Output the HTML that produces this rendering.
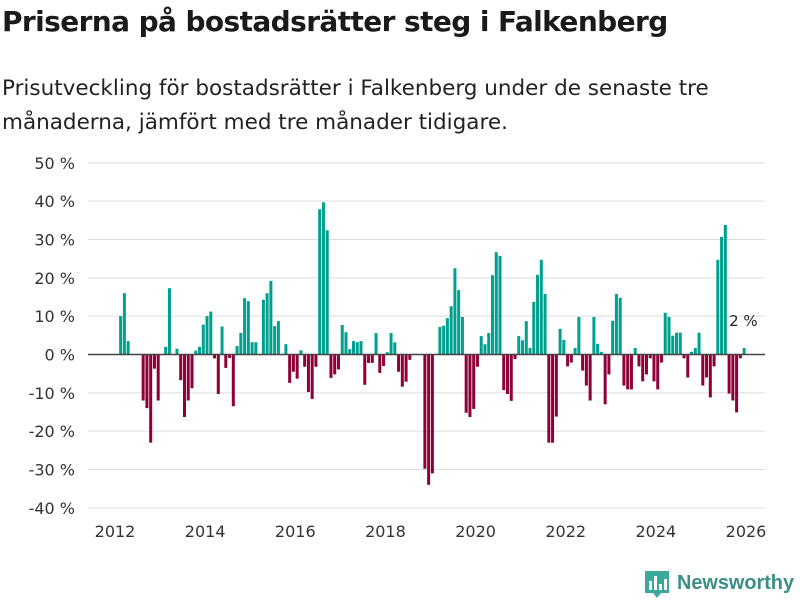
<!DOCTYPE html>
<html><head><meta charset="utf-8"><style>
body{margin:0;background:#fff;font-family:"Liberation Sans","DejaVu Sans",sans-serif;}
#wrap{position:relative;width:800px;height:600px;overflow:hidden}
h1{position:absolute;left:2px;top:5px;margin:0;font-size:28px;font-weight:bold;color:#1a1a1a;font-family:"DejaVu Sans","Liberation Sans",sans-serif;letter-spacing:-0.6px}
p{position:absolute;left:2px;top:72px;margin:0;font-size:21.5px;line-height:34px;color:#222;width:790px;font-family:"DejaVu Sans","Liberation Sans",sans-serif}
</style></head><body><div id="wrap">
<h1>Priserna på bostadsrätter steg i Falkenberg</h1>
<p>Prisutveckling för bostadsrätter i Falkenberg under de senaste tre månaderna, jämfört med tre månader tidigare.</p>
<svg id="c" width="800" height="600" style="position:absolute;left:0;top:0"></svg>
</div>
<script>
const values=[null,10,16,3.5,0,0,0,-12,-14,-23,-3.7,-12,
0,2,17.3,0,1.5,-6.7,-16.3,-12,-8.8,1,2,7.8,
10,11.2,-1,-10.3,7.3,-3.5,-0.9,-13.5,2.2,5.6,14.7,13.9,
3.2,3.2,0,14.3,16,19.2,7.4,8.7,0,2.7,-7.4,-4.5,
-6.3,1.1,-3.2,-9.8,-11.6,-3.2,37.9,39.7,32.4,-6.1,-5.2,-3.9,
7.7,5.8,1.4,3.5,3.2,3.5,-7.9,-2.2,-2.2,5.6,-4.8,-3,
0.6,5.6,3.2,-4.5,-8.4,-7.1,-1.4,0,0,0,-29.8,-34,
-31,0,7.2,7.5,9.5,12.6,22.5,16.8,9.8,-15.2,-16.3,-14.2,
-3.2,4.8,2.7,5.6,20.7,26.7,25.7,-9.3,-10.3,-12.1,-1.2,4.8,
3.7,8.7,1.7,13.7,20.8,24.7,15.8,-23,-23,-16.2,6.7,3.8,
-3.1,-2.1,1.7,9.8,-4.2,-8.1,-12,9.8,2.8,0.7,-13,-5.2,
8.8,15.8,14.8,-8.1,-9.1,-9.1,1.7,-3.1,-7,-5.2,-1,-7,
-9.1,-2.1,10.9,9.8,4.9,5.7,5.7,-1,-6,0.7,1.7,5.7,
-8.1,-6,-11.2,-3.1,24.7,30.7,33.8,-10.2,-12,-15.1,-1,1.7];
const startYear=2012;
const yTicks=[50,40,30,20,10,0,-10,-20,-30,-40];
const xTicks=[2012,2014,2016,2018,2020,2022,2024,2026];
const lastLabel="2 %";
const NS="http://www.w3.org/2000/svg",svg=document.getElementById('c');
const y=v=>354.5-v*3.833;
const x=m=>115+m*(631/168);
function mk(t,a){const e=document.createElementNS(NS,t);for(const k in a)e.setAttribute(k,a[k]);svg.appendChild(e);return e;}
yTicks.forEach(t=>{
 if(t!==0){const g=mk('line',{x1:88,x2:765,y1:y(t),y2:y(t),stroke:'#dcdcdc','stroke-width':1});
 
 }
 const l=mk('text',{x:75,y:y(t)+6,'text-anchor':'end','font-size':16,fill:'#333','font-family':'DejaVu Sans, Liberation Sans, sans-serif'});
 l.textContent=t+' %';
 
 
});
values.forEach((v,i)=>{
 if(v===null||v===0)return;
 const cx=x(i+0.5);
 const r=mk('rect',{x:cx-1.5,width:3,y:Math.min(y(v),y(0)),height:Math.abs(y(v)-y(0)),fill:v>0?'#00a08e':'#8e0038'});
 
 
});
const z=mk('line',{x1:88,x2:765,y1:y(0),y2:y(0),stroke:'#444','stroke-width':1.6});


xTicks.forEach(t=>{
 const l=mk('text',{x:x((t-startYear)*12),y:537,'text-anchor':'middle','font-size':16,fill:'#333','font-family':'DejaVu Sans, Liberation Sans, sans-serif'});
 l.textContent=t;
 
 
});
const li=values.length-1;
const ll=mk('text',{x:x(li+0.5)-15,y:y(values[li])-22,'text-anchor':'start','font-size':15,fill:'#222','font-family':'DejaVu Sans, Liberation Sans, sans-serif'});
ll.textContent=lastLabel;


const lg=mk('g',{});


const b=document.createElementNS(NS,'path');b.setAttribute('d','M645 571h24v22h-8l-4 5-4-5h-8z');b.setAttribute('fill','#3aa99b');lg.appendChild(b);
[[649,581,3,9],[654,576,3,14],[659,584,3,6],[664,579,3,11]].forEach(a=>{const r=document.createElementNS(NS,'rect');r.setAttribute('x',a[0]);r.setAttribute('y',a[1]);r.setAttribute('width',a[2]);r.setAttribute('height',a[3]);r.setAttribute('fill','#fff');lg.appendChild(r);});
const lt=document.createElementNS(NS,'text');lt.setAttribute('x',677);lt.setAttribute('y',589);lt.setAttribute('font-size',20);lt.setAttribute('font-weight','bold');lt.setAttribute('fill','#3a8f86');lt.setAttribute('textLength',117);lt.setAttribute('lengthAdjust','spacingAndGlyphs');lt.setAttribute('font-family','Liberation Sans, DejaVu Sans, sans-serif');lt.textContent='Newsworthy';lg.appendChild(lt);
</script></body></html>
